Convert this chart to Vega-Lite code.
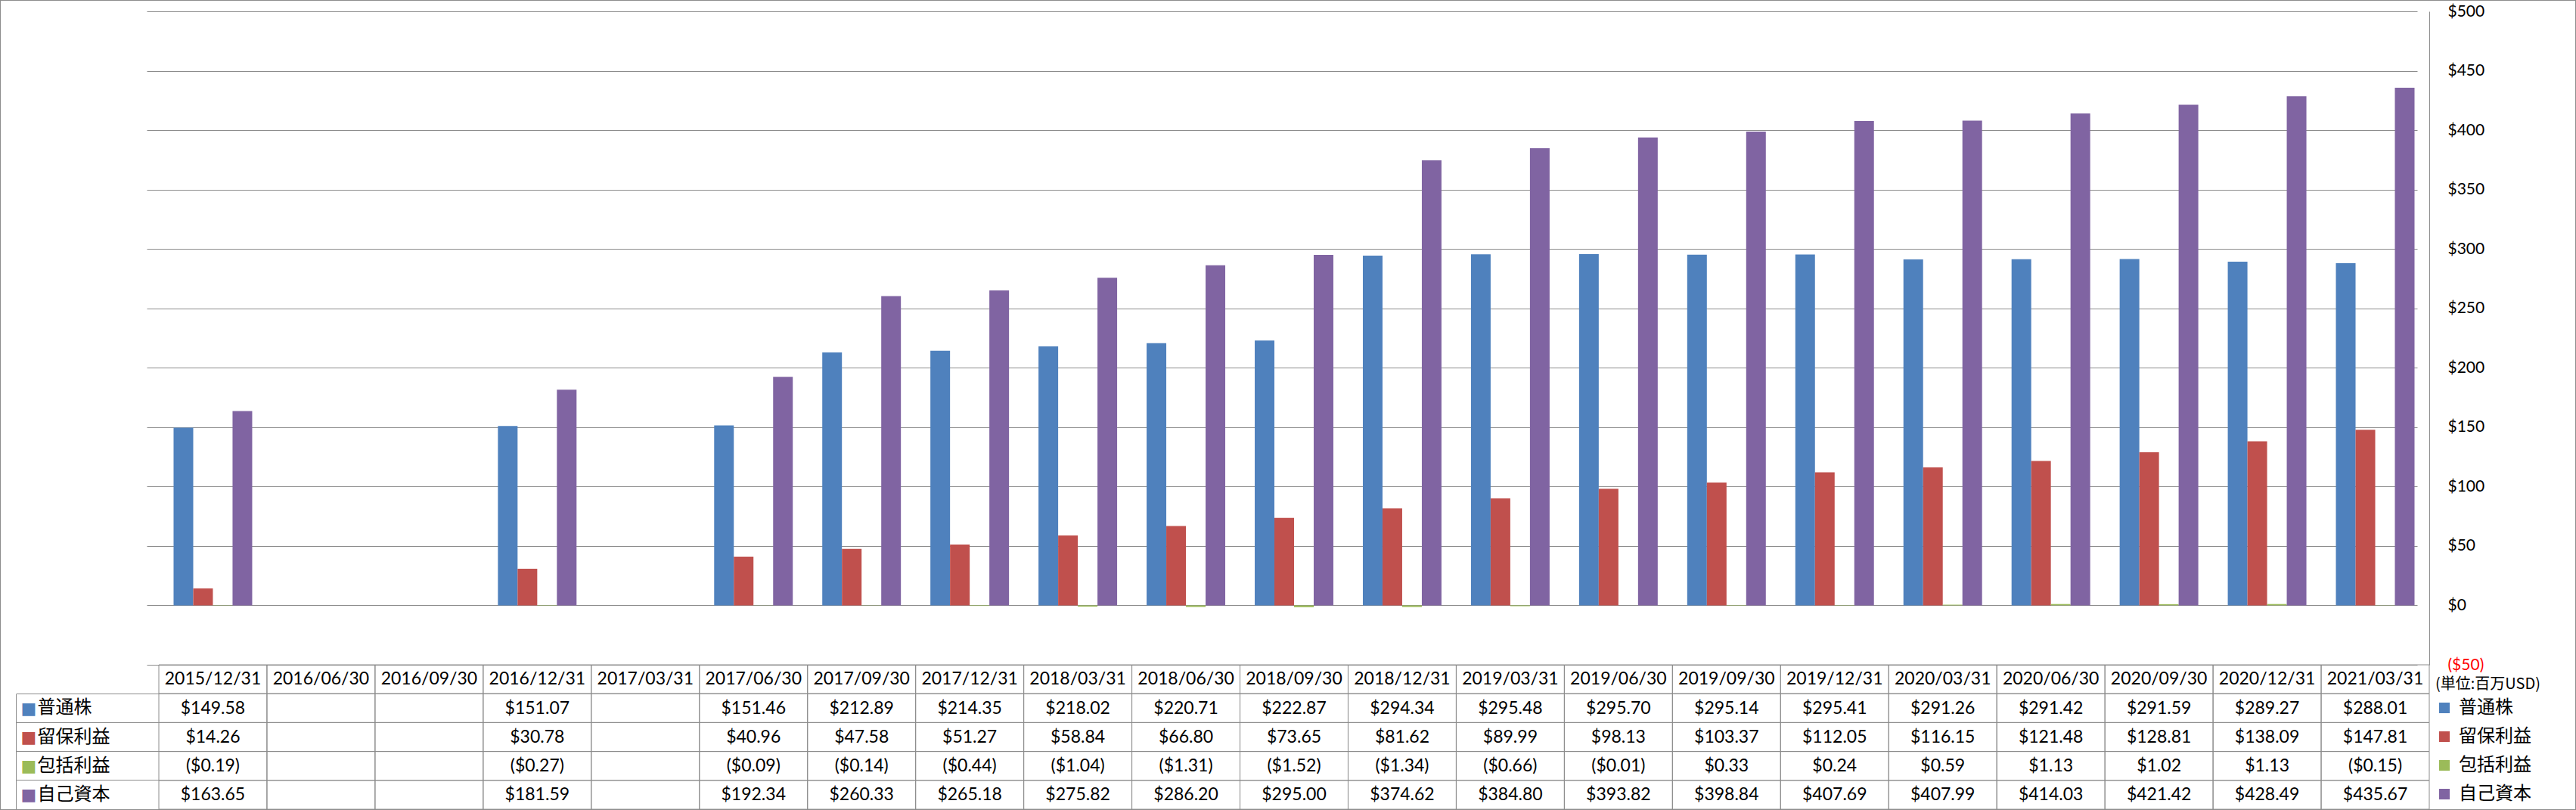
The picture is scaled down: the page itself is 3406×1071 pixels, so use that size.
{
  "$schema": "https://vega.github.io/schema/vega-lite/v6.json",
  "width": 3406,
  "height": 1071,
  "autosize": {"type": "none"},
  "padding": 0,
  "background": "white",
  "config": {"view": {"stroke": "#8c8c8c", "strokeWidth": 2}, "font": "Lato"},
  "datasets": {
    "equity": [
      {"date": "2015/12/31", "series": "普通株", "value": 149.58},
      {"date": "2015/12/31", "series": "留保利益", "value": 14.26},
      {"date": "2015/12/31", "series": "包括利益", "value": -0.19},
      {"date": "2015/12/31", "series": "自己資本", "value": 163.65},
      {"date": "2016/06/30", "series": "普通株", "value": null},
      {"date": "2016/06/30", "series": "留保利益", "value": null},
      {"date": "2016/06/30", "series": "包括利益", "value": null},
      {"date": "2016/06/30", "series": "自己資本", "value": null},
      {"date": "2016/09/30", "series": "普通株", "value": null},
      {"date": "2016/09/30", "series": "留保利益", "value": null},
      {"date": "2016/09/30", "series": "包括利益", "value": null},
      {"date": "2016/09/30", "series": "自己資本", "value": null},
      {"date": "2016/12/31", "series": "普通株", "value": 151.07},
      {"date": "2016/12/31", "series": "留保利益", "value": 30.78},
      {"date": "2016/12/31", "series": "包括利益", "value": -0.27},
      {"date": "2016/12/31", "series": "自己資本", "value": 181.59},
      {"date": "2017/03/31", "series": "普通株", "value": null},
      {"date": "2017/03/31", "series": "留保利益", "value": null},
      {"date": "2017/03/31", "series": "包括利益", "value": null},
      {"date": "2017/03/31", "series": "自己資本", "value": null},
      {"date": "2017/06/30", "series": "普通株", "value": 151.46},
      {"date": "2017/06/30", "series": "留保利益", "value": 40.96},
      {"date": "2017/06/30", "series": "包括利益", "value": -0.09},
      {"date": "2017/06/30", "series": "自己資本", "value": 192.34},
      {"date": "2017/09/30", "series": "普通株", "value": 212.89},
      {"date": "2017/09/30", "series": "留保利益", "value": 47.58},
      {"date": "2017/09/30", "series": "包括利益", "value": -0.14},
      {"date": "2017/09/30", "series": "自己資本", "value": 260.33},
      {"date": "2017/12/31", "series": "普通株", "value": 214.35},
      {"date": "2017/12/31", "series": "留保利益", "value": 51.27},
      {"date": "2017/12/31", "series": "包括利益", "value": -0.44},
      {"date": "2017/12/31", "series": "自己資本", "value": 265.18},
      {"date": "2018/03/31", "series": "普通株", "value": 218.02},
      {"date": "2018/03/31", "series": "留保利益", "value": 58.84},
      {"date": "2018/03/31", "series": "包括利益", "value": -1.04},
      {"date": "2018/03/31", "series": "自己資本", "value": 275.82},
      {"date": "2018/06/30", "series": "普通株", "value": 220.71},
      {"date": "2018/06/30", "series": "留保利益", "value": 66.80},
      {"date": "2018/06/30", "series": "包括利益", "value": -1.31},
      {"date": "2018/06/30", "series": "自己資本", "value": 286.20},
      {"date": "2018/09/30", "series": "普通株", "value": 222.87},
      {"date": "2018/09/30", "series": "留保利益", "value": 73.65},
      {"date": "2018/09/30", "series": "包括利益", "value": -1.52},
      {"date": "2018/09/30", "series": "自己資本", "value": 295.00},
      {"date": "2018/12/31", "series": "普通株", "value": 294.34},
      {"date": "2018/12/31", "series": "留保利益", "value": 81.62},
      {"date": "2018/12/31", "series": "包括利益", "value": -1.34},
      {"date": "2018/12/31", "series": "自己資本", "value": 374.62},
      {"date": "2019/03/31", "series": "普通株", "value": 295.48},
      {"date": "2019/03/31", "series": "留保利益", "value": 89.99},
      {"date": "2019/03/31", "series": "包括利益", "value": -0.66},
      {"date": "2019/03/31", "series": "自己資本", "value": 384.80},
      {"date": "2019/06/30", "series": "普通株", "value": 295.70},
      {"date": "2019/06/30", "series": "留保利益", "value": 98.13},
      {"date": "2019/06/30", "series": "包括利益", "value": -0.01},
      {"date": "2019/06/30", "series": "自己資本", "value": 393.82},
      {"date": "2019/09/30", "series": "普通株", "value": 295.14},
      {"date": "2019/09/30", "series": "留保利益", "value": 103.37},
      {"date": "2019/09/30", "series": "包括利益", "value": 0.33},
      {"date": "2019/09/30", "series": "自己資本", "value": 398.84},
      {"date": "2019/12/31", "series": "普通株", "value": 295.41},
      {"date": "2019/12/31", "series": "留保利益", "value": 112.05},
      {"date": "2019/12/31", "series": "包括利益", "value": 0.24},
      {"date": "2019/12/31", "series": "自己資本", "value": 407.69},
      {"date": "2020/03/31", "series": "普通株", "value": 291.26},
      {"date": "2020/03/31", "series": "留保利益", "value": 116.15},
      {"date": "2020/03/31", "series": "包括利益", "value": 0.59},
      {"date": "2020/03/31", "series": "自己資本", "value": 407.99},
      {"date": "2020/06/30", "series": "普通株", "value": 291.42},
      {"date": "2020/06/30", "series": "留保利益", "value": 121.48},
      {"date": "2020/06/30", "series": "包括利益", "value": 1.13},
      {"date": "2020/06/30", "series": "自己資本", "value": 414.03},
      {"date": "2020/09/30", "series": "普通株", "value": 291.59},
      {"date": "2020/09/30", "series": "留保利益", "value": 128.81},
      {"date": "2020/09/30", "series": "包括利益", "value": 1.02},
      {"date": "2020/09/30", "series": "自己資本", "value": 421.42},
      {"date": "2020/12/31", "series": "普通株", "value": 289.27},
      {"date": "2020/12/31", "series": "留保利益", "value": 138.09},
      {"date": "2020/12/31", "series": "包括利益", "value": 1.13},
      {"date": "2020/12/31", "series": "自己資本", "value": 428.49},
      {"date": "2021/03/31", "series": "普通株", "value": 288.01},
      {"date": "2021/03/31", "series": "留保利益", "value": 147.81},
      {"date": "2021/03/31", "series": "包括利益", "value": -0.15},
      {"date": "2021/03/31", "series": "自己資本", "value": 435.67}
    ],
    "header": [
      {"date": "2015/12/31"}, {"date": "2016/06/30"}, {"date": "2016/09/30"}, {"date": "2016/12/31"},
      {"date": "2017/03/31"}, {"date": "2017/06/30"}, {"date": "2017/09/30"}, {"date": "2017/12/31"},
      {"date": "2018/03/31"}, {"date": "2018/06/30"}, {"date": "2018/09/30"}, {"date": "2018/12/31"},
      {"date": "2019/03/31"}, {"date": "2019/06/30"}, {"date": "2019/09/30"}, {"date": "2019/12/31"},
      {"date": "2020/03/31"}, {"date": "2020/06/30"}, {"date": "2020/09/30"}, {"date": "2020/12/31"},
      {"date": "2021/03/31"}
    ]
  },
  "resolve": {"scale": {"y": "independent"}, "axis": {"y": "independent"}},
  "layer": [
    {
      "data": {"name": "equity"},
      "transform": [{"filter": "isValid(datum.value)"}],
      "mark": {"type": "bar"},
      "encoding": {
        "x": {
          "field": "date", "type": "nominal",
          "scale": {
            "domain": ["2015/12/31", "2016/06/30", "2016/09/30", "2016/12/31", "2017/03/31", "2017/06/30", "2017/09/30", "2017/12/31", "2018/03/31", "2018/06/30", "2018/09/30", "2018/12/31", "2019/03/31", "2019/06/30", "2019/09/30", "2019/12/31", "2020/03/31", "2020/06/30", "2020/09/30", "2020/12/31", "2021/03/31"],
            "range": [210, 3212], "paddingInner": 0, "paddingOuter": 0
          },
          "axis": null
        },
        "xOffset": {
          "field": "series", "type": "nominal",
          "scale": {"domain": ["普通株", "留保利益", "包括利益", "自己資本"], "paddingInner": 0, "paddingOuter": 0.75}
        },
        "y": {
          "field": "value", "type": "quantitative",
          "scale": {"domain": [-50, 500], "range": [879, 15], "nice": false, "zero": false},
          "axis": {
            "orient": "right", "offset": -194,
            "values": [-50, 0, 50, 100, 150, 200, 250, 300, 350, 400, 450, 500],
            "format": "($d",
            "grid": true, "gridColor": "#8c8c8c", "gridWidth": 1,
            "domain": true, "domainColor": "#8c8c8c", "domainWidth": 1,
            "ticks": false, "tickSize": 0, "labelPadding": 24,
            "labelFont": "Lato", "labelFontSize": 21,
            "labelColor": {"condition": {"test": "datum.value < 0", "value": "#ff0000"}, "value": "#000000"},
            "labelOverlap": false, "labelBound": false, "title": null
          }
        },
        "color": {
          "field": "series", "type": "nominal",
          "scale": {"domain": ["普通株", "留保利益", "包括利益", "自己資本"], "range": ["#4F81BD", "#C0504D", "#9BBB59", "#8064A2"]},
          "legend": {
            "orient": "none", "legendX": 3220, "legendY": 895,
            "title": "(単位:百万USD)", "titleFont": "Noto Sans CJK JP", "titleFontSize": 20,
            "titleFontWeight": "normal", "titleColor": "#000000", "titlePadding": 9,
            "labelFont": "Noto Sans CJK JP", "labelFontSize": 24, "labelColor": "#000000",
            "symbolType": "square", "symbolSize": 196, "symbolStrokeWidth": 0,
            "rowPadding": 14, "labelOffset": 7, "padding": 0, "labelLimit": 300
          }
        }
      }
    },
    {
      "layer": [
        {
          "data": {"name": "equity"},
          "mark": {"type": "rect", "filled": false, "stroke": "#8c8c8c", "strokeWidth": 1},
          "encoding": {
            "x": {"field": "date", "type": "nominal", "axis": null},
            "y": {
              "field": "series", "type": "nominal",
              "scale": {"domain": ["日付", "普通株", "留保利益", "包括利益", "自己資本"], "range": [879, 1070], "paddingInner": 0, "paddingOuter": 0},
              "axis": {
                "orient": "left", "offset": -210,
                "values": ["日付", "普通株", "留保利益", "包括利益", "自己資本"],
                "bandPosition": 1, "domain": false,
                "ticks": true, "tickSize": 189, "tickColor": "#8c8c8c", "tickWidth": 1,
                "labelExpr": "datum.value == '日付' ? '' : datum.value",
                "labelAlign": "left", "labelPadding": -28, "labelOffset": 0,
                "labelFont": "Noto Sans CJK JP", "labelFontSize": 24, "labelColor": "#000000",
                "labelOverlap": false, "labelBound": false, "grid": false, "title": null
              }
            }
          }
        },
        {
          "data": {"name": "header"},
          "mark": {"type": "rect", "filled": false, "stroke": "#8c8c8c", "strokeWidth": 1},
          "encoding": {
            "x": {"field": "date", "type": "nominal", "axis": null},
            "y": {"datum": "日付", "type": "nominal"}
          }
        },
        {
          "data": {"name": "header"},
          "mark": {"type": "text", "font": "Lato", "fontSize": 23, "color": "#000000", "baseline": "middle", "align": "center"},
          "encoding": {
            "x": {"field": "date", "type": "nominal", "axis": null},
            "y": {"datum": "日付", "type": "nominal"},
            "text": {"field": "date", "type": "nominal"}
          }
        }
      ]
    },
    {
      "data": {"name": "equity"},
      "transform": [{"filter": "isValid(datum.value)"}],
      "mark": {"type": "text", "font": "Lato", "fontSize": 23, "color": "#000000", "baseline": "middle", "align": "center"},
      "encoding": {
        "x": {"field": "date", "type": "nominal", "axis": null},
        "y": {
          "field": "series", "type": "nominal",
          "scale": {"domain": ["普通株", "留保利益", "包括利益", "自己資本"], "range": [917.5, 1070], "paddingInner": 0, "paddingOuter": 0},
          "axis": {
            "orient": "left", "offset": -21,
            "domain": true, "domainColor": "#8c8c8c", "domainWidth": 1,
            "ticks": false, "tickSize": 0,
            "labelExpr": "'■'", "labelAlign": "left", "labelPadding": -6,
            "labelFont": "DejaVu Sans", "labelFontSize": 22,
            "labelColor": {"condition": [
              {"test": "datum.value == '普通株'", "value": "#4F81BD"},
              {"test": "datum.value == '留保利益'", "value": "#C0504D"},
              {"test": "datum.value == '包括利益'", "value": "#9BBB59"}
            ], "value": "#8064A2"},
            "labelOverlap": false, "labelBound": false, "grid": false, "title": null
          }
        },
        "text": {"field": "value", "type": "quantitative", "format": "($.2f"}
      }
    }
  ]
}
